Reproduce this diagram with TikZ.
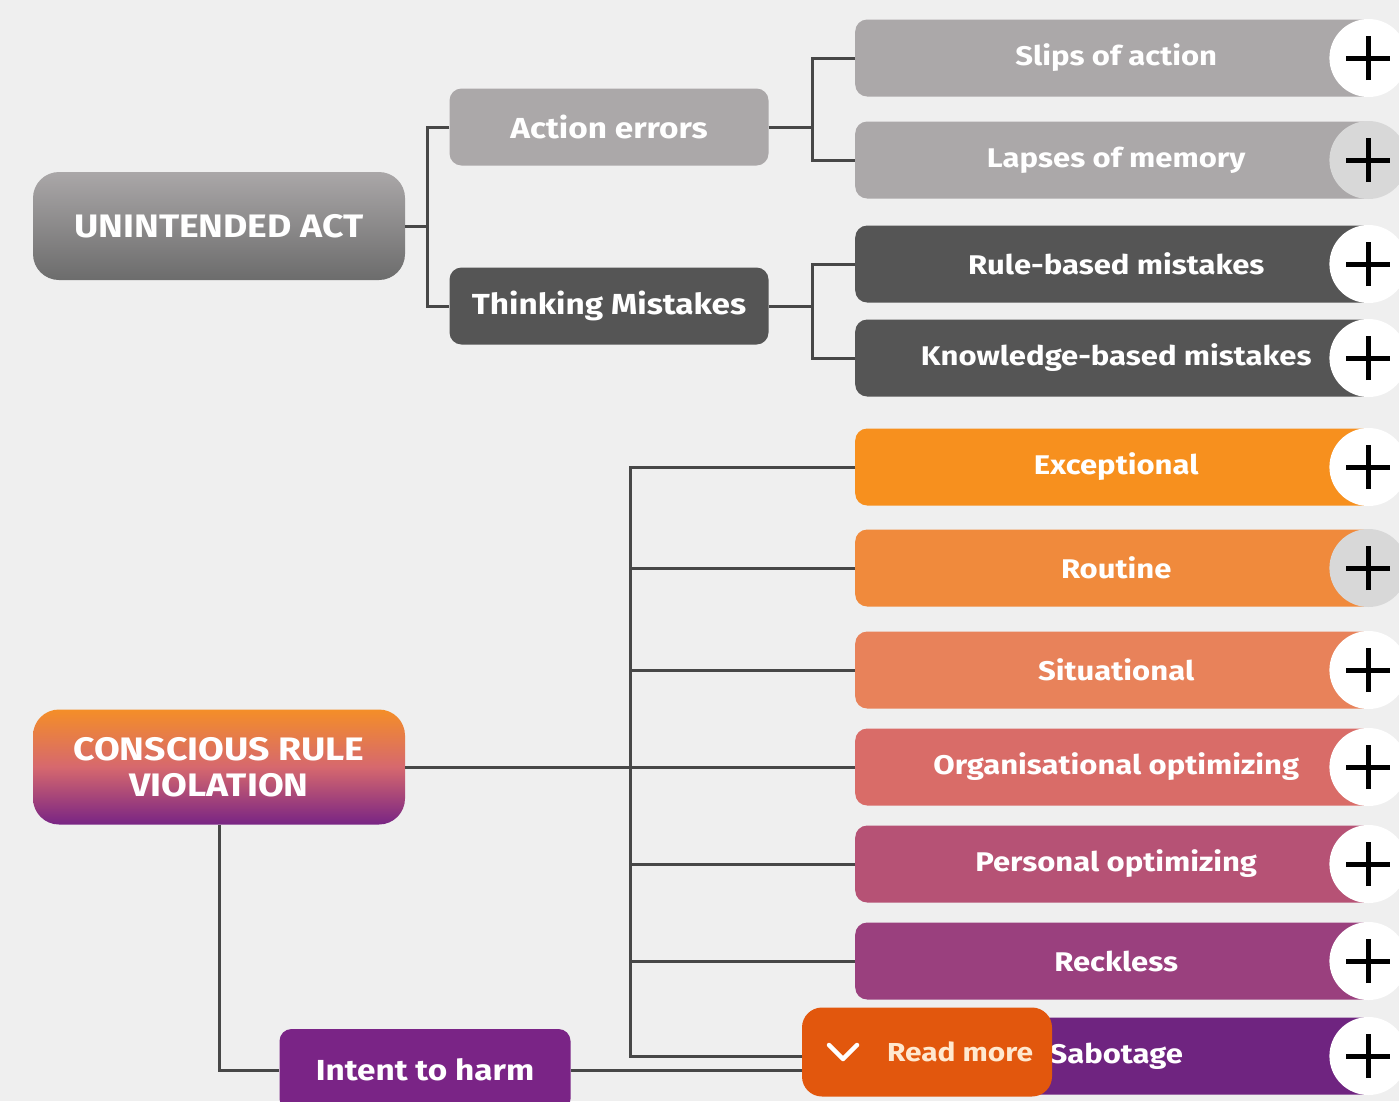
\documentclass[tikz,border=0pt]{standalone}
\usepackage{fontspec}
\setmainfont{Fira Sans}[FakeStretch=1.15]
\definecolor{bg}{HTML}{EFEFEF}
\definecolor{lgray}{HTML}{ABA8A9}
\definecolor{dgray}{HTML}{555555}
\definecolor{conn}{HTML}{474747}
\definecolor{cExc}{HTML}{F7901E}
\definecolor{cRou}{HTML}{F08A3C}
\definecolor{cSit}{HTML}{E8825A}
\definecolor{cOrg}{HTML}{D96C68}
\definecolor{cPer}{HTML}{B65275}
\definecolor{cRec}{HTML}{9A407E}
\definecolor{cSab}{HTML}{6F2480}
\definecolor{cInt}{HTML}{7A2486}
\definecolor{cRM}{HTML}{E2570D}
\definecolor{rmtext}{HTML}{FFE8CF}
\definecolor{hoverc}{HTML}{D8D8D8}
\begin{document}
\begin{tikzpicture}[x=1pt,y=-1pt,
  rootbox/.style={rounded corners=26pt, minimum width=372pt, minimum height=108pt, text=white,
    font=\fontsize{32.5}{38}\selectfont\bfseries, align=center, inner sep=0pt},
  midbox/.style={rounded corners=12pt, minimum width=319pt, minimum height=77pt, text=white,
    font=\fontsize{29}{34}\selectfont\bfseries, inner sep=0pt},
  leafbox/.style={rounded corners=12pt, minimum width=526pt, minimum height=77pt, text=white,
    font=\fontsize{27}{32}\selectfont\bfseries, inner sep=0pt},
  plusbtn/.style={circle, minimum size=78pt, inner sep=0pt, fill=white,
    path picture={
      \draw[black, line width=5pt] ([xshift=-22pt]path picture bounding box.center) -- ([xshift=22pt]path picture bounding box.center);
      \draw[black, line width=5pt] ([yshift=-22pt]path picture bounding box.center) -- ([yshift=22pt]path picture bounding box.center);
    }},
  link/.style={draw=conn, line width=3pt}
]
\clip (0,0) rectangle (1399,1101);
\useasboundingbox (0,0) rectangle (1399,1101);
\fill[bg] (0,0) rectangle (1399,1101);

% roots
\node[rootbox, top color={rgb,255:red,170;green,167;blue,168}, bottom color={rgb,255:red,108;green,108;blue,108}] (ua) at (219,226) {UNINTENDED ACT};
\node[rootbox, minimum height=115pt, top color={rgb,255:red,244;green,142;blue,40}, bottom color={rgb,255:red,120;green,36;blue,132}, middle color={rgb,255:red,214;green,104;blue,110}] (crv) at (219,767) {CONSCIOUS RULE\\[-2pt]VIOLATION};

% mid nodes
\node[midbox, fill=lgray] (ae) at (609,127) {Action errors};
\node[midbox, fill=dgray] (tm) at (609,306) {Thinking Mistakes};
\node[midbox, fill=cInt, minimum width=291pt, minimum height=82pt] (ith) at (425,1070) {Intent to harm};

% leaves
\foreach \n/\y/\c/\t in {soa/58/lgray/Slips of action, lom/160/lgray/Lapses of memory,
  rbm/264/dgray/Rule-based mistakes, kbm/358/dgray/Knowledge-based mistakes,
  exc/467/cExc/Exceptional, rou/568/cRou/Routine, sit/670/cSit/Situational,
  org/767/cOrg/Organisational optimizing, per/864/cPer/Personal optimizing,
  rec/961/cRec/Reckless, sab/1056/cSab/Sabotage}{
  \node[leafbox, fill=\c, anchor=west] (\n) at (855,\y) {\hspace{-4pt}\t};
}

% plus buttons
\foreach \n in {soa,rbm,kbm,exc,sit,org,per,rec,sab}{
  \node[plusbtn] (\n-btn) at ([xshift=-13pt]\n.east) {};
}
\foreach \n in {lom,rou}{
  \node[plusbtn, fill=hoverc] (\n-btn) at ([xshift=-13pt]\n.east) {};
}

% connectors: unintended act
\coordinate (j1) at ([xshift=22pt]ua.east);
\draw[link] (ua.east) -- (j1);
\draw[link] (ae.west) -| (j1) |- (tm.west);
\coordinate (j2) at ([xshift=44pt]ae.east);
\draw[link] (ae.east) -- (j2);
\draw[link] (soa.west) -| (j2) |- (lom.west);
\coordinate (j3) at ([xshift=44pt]tm.east);
\draw[link] (tm.east) -- (j3);
\draw[link] (rbm.west) -| (j3) |- (kbm.west);

% connectors: conscious rule violation
\coordinate (t0) at (630,767);
\draw[link] (crv.east) -- (org.west);
\draw[link] (exc.west) -| (t0) |- (sab.west);
\foreach \n in {rou,sit,per,rec}{
  \draw[link] (\n.west) -- (\n.west -| t0);
}
\draw[link] (crv.south) |- (ith.west);

% read more button
\node[rounded corners=20pt, fill=cRM, minimum width=250pt, minimum height=89pt, inner sep=0pt] (rm) at (927,1052) {};
\draw[link] (ith.east) -- (ith.east -| rm.west);
\node[text=rmtext, font=\fontsize{26}{30}\selectfont\bfseries, inner sep=0pt] (rmt) at (960,1052) {Read more};
\draw[white, line width=4.5pt, line cap=round, line join=round] ([shift={(-98pt,7pt)}]rm.center) -- ([shift={(-84pt,-7pt)}]rm.center) -- ([shift={(-70pt,7pt)}]rm.center);
\end{tikzpicture}
\end{document}
